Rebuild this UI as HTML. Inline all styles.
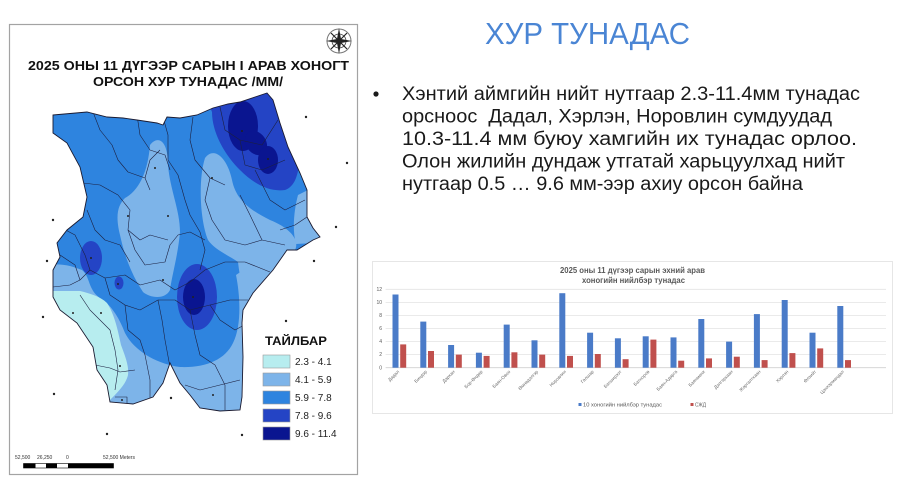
<!DOCTYPE html>
<html><head><meta charset="utf-8"><style>
html,body{margin:0;padding:0;background:#fff;}
svg{display:block;}
text{font-family:"Liberation Sans",Arial,sans-serif;}
</style></head><body>
<svg width="902" height="498" viewBox="0 0 902 498" xmlns="http://www.w3.org/2000/svg">
<defs>
<clipPath id="mc"><path id="outlineP" d="M53,115 L87,112 L107,117 L123,118 L137,120 L157,123 L163,125 L167,117 L180,118 L197,115 L213,108 L228,104 L240,102 L255,97 L267,93 L273,100 L280,123 L288,147 L300,173 L307,190 L307,217 L313,228 L320,237 L313,240 L297,250 L287,250 L273,270 L253,293 L243,310 L242,323 L243,357 L242,397 L240,410 L220,411 L200,408 L190,395 L180,383 L170,363 L163,383 L153,397 L133,404 L110,402 L107,385 L97,370 L93,347 L77,323 L60,310 L53,297 L53,270 L60,257 L57,243 L67,230 L83,217 L87,197 L80,167 L67,143 L53,133 Z"/></clipPath>
</defs>

<!-- Map frame -->
<rect x="9.5" y="24.5" width="348" height="450" fill="#fff" stroke="#a3a3a3" stroke-width="1.2"/>
<!-- compass -->
<g transform="translate(339,41)" stroke="#222" fill="none">
<circle r="12" stroke="#777" stroke-width="1"/>
<circle r="7" stroke="#444" stroke-width="0.8"/>
<path d="M0,-13 L2,-2 L13,0 L2,2 L0,13 L-2,2 L-13,0 L-2,-2 Z" fill="#222" stroke="none"/>
<path d="M-8,-8 L8,8 M8,-8 L-8,8" stroke-width="1.2"/>
</g>
<text x="28" y="70" font-size="13" font-weight="bold" fill="#111" textLength="321" lengthAdjust="spacingAndGlyphs">2025 ОНЫ 11 ДҮГЭЭР САРЫН I АРАВ ХОНОГТ</text>
<text x="93" y="86" font-size="13" font-weight="bold" fill="#111" textLength="190" lengthAdjust="spacingAndGlyphs">ОРСОН ХУР ТУНАДАС /ММ/</text>

<!-- Map fill -->
<g clip-path="url(#mc)">
<rect x="40" y="85" width="290" height="330" fill="#2e84df"/>
<!-- light blue zones -->
<g fill="#7db4e9">
<path d="M150,145 C158,135 168,140 168,165 C170,190 180,210 180,232 C178,255 172,275 170,290 C165,300 150,298 143,292 C132,275 125,258 120,235 C115,215 118,205 125,198 C140,190 148,170 150,145 Z"/>
<path d="M205,158 C215,145 228,160 232,180 C236,200 250,210 270,220 C290,228 300,240 295,250 L275,262 C265,280 262,300 262,330 L250,330 C245,300 240,280 238,262 C228,255 215,250 208,240 C200,220 198,180 205,158 Z"/>
<path d="M298,195 L312,188 L330,242 L296,244 C292,230 294,210 298,195 Z"/>
<path d="M40,266 C60,262 72,266 82,270 C90,276 88,290 100,298 C112,305 120,320 125,333 C135,352 158,364 180,367 C205,368 225,360 233,343 C242,325 240,295 236,275 L255,262 L310,250 L310,420 L40,420 Z"/>
</g>
<!-- cyan -->
<path fill="#b7edef" d="M45,291 L80,291 C88,293 100,296 107,303 C113,312 117,325 121,345 C125,356 129,365 128,375 C126,384 118,392 110,400 L45,400 Z"/>
<!-- dark -->
<g fill="#2444c5">
<path d="M205,95 L212,112 C212,130 222,152 240,170 C255,185 270,192 285,190 C300,185 300,160 300,140 L300,85 Z"/>
<ellipse cx="197" cy="297" rx="20" ry="33"/>
<ellipse cx="91" cy="258" rx="11" ry="17"/>
<ellipse cx="119" cy="283" rx="4.5" ry="6.5"/>
</g>
<!-- navy -->
<g fill="#0a1590">
<ellipse cx="243" cy="126" rx="15" ry="25"/>
<ellipse cx="256" cy="143" rx="10" ry="13" transform="rotate(-35 256 143)"/>
<ellipse cx="268" cy="160" rx="10" ry="14"/>
<ellipse cx="194" cy="297" rx="11" ry="18"/>
</g>
<!-- soum borders -->
<g fill="none" stroke="#1c2040" stroke-width="0.6" stroke-linejoin="round">
<path d="M93,112 L100,130 L112,145 L118,160 L128,172 L145,178 L150,190"/>
<path d="M137,115 L140,135 L150,150 L165,155 L170,170"/>
<path d="M163,117 L168,135 L168,160 L178,175 L185,200 L190,215"/>
<path d="M193,117 L190,140 L195,160 L210,178 L225,185"/>
<path d="M220,107 L225,130 L240,140 L262,145 L278,120"/>
<path d="M240,140 L245,165 L262,170 L285,160"/>
<path d="M210,178 L205,200 L212,220 L225,240 L245,245 L262,240 L285,245"/>
<path d="M83,183 L100,185 L118,195 L130,210 L128,230 L140,240 L150,235 L168,240"/>
<path d="M87,210 L95,230 L105,240 L120,245 L130,262"/>
<path d="M60,227 L75,235 L85,255 L90,270 L105,278 L125,275 L140,285 L160,280 L175,290 L190,282 L205,270 L225,262 L245,262 L270,272"/>
<path d="M128,230 L135,250 L145,265 L165,262 L170,245 L178,235 L190,232 L205,240"/>
<path d="M190,215 L200,232 L205,250 L200,270"/>
<path d="M53,287 L70,285 L80,280 L90,270"/>
<path d="M80,295 L90,310 L100,320 L110,330 L115,350 L118,370 L115,390"/>
<path d="M105,278 L110,295 L125,305 L140,310 L158,300 L175,300 L190,310 L210,305 L230,300 L248,300"/>
<path d="M125,305 L128,330 L140,340 L145,355 L150,380 L150,405"/>
<path d="M158,300 L162,320 L165,340 L170,367"/>
<path d="M190,310 L195,335 L200,355 L215,365 L225,385 L225,410"/>
<path d="M210,305 L220,320 L235,330 L248,323"/>
<path d="M95,365 L110,368 L120,372 L135,370"/>
<path d="M185,385 L200,390 L220,385 L240,380"/>
<path d="M60,255 L75,265 L80,280"/>
<path d="M240,195 L250,215 L262,240"/>
<path d="M255,170 L270,200 L285,210 L305,200"/>
<path d="M280,230 L295,225 L310,215"/>
<path d="M145,178 L150,160 L160,150"/>
<path d="M115,397 L127,397 L127,407"/>
</g>
</g>
<use href="#outlineP" fill="none" stroke="#1a1a30" stroke-width="0.9"/>
<!-- settlement dots -->
<g fill="#222">
<circle cx="155" cy="168" r="1"/><circle cx="212" cy="178" r="1"/><circle cx="242" cy="131" r="1"/>
<circle cx="268" cy="159" r="1"/><circle cx="128" cy="216" r="1"/><circle cx="168" cy="216" r="1"/>
<circle cx="91" cy="258" r="1"/><circle cx="163" cy="280" r="1"/><circle cx="193" cy="297" r="1"/>
<circle cx="118" cy="284" r="1"/><circle cx="73" cy="313" r="1"/><circle cx="101" cy="313" r="1"/>
<circle cx="120" cy="366" r="1"/><circle cx="213" cy="395" r="1"/><circle cx="122" cy="400" r="1"/>
<circle cx="306" cy="117" r="1.2"/><circle cx="347" cy="163" r="1.2"/><circle cx="336" cy="227" r="1.2"/>
<circle cx="53" cy="220" r="1.2"/><circle cx="47" cy="261" r="1.2"/><circle cx="43" cy="317" r="1.2"/>
<circle cx="54" cy="394" r="1.2"/><circle cx="107" cy="434" r="1.2"/><circle cx="171" cy="398" r="1.2"/>
<circle cx="242" cy="435" r="1.2"/><circle cx="286" cy="321" r="1.2"/><circle cx="314" cy="261" r="1.2"/>
</g>
<!-- legend -->
<text x="265" y="345" font-size="12" font-weight="bold" fill="#111" textLength="62" lengthAdjust="spacingAndGlyphs">ТАЙЛБАР</text>
<g stroke="#9a9a9a" stroke-width="0.6">
<rect x="263" y="355" width="27" height="13" fill="#b7edef"/>
<rect x="263" y="373" width="27" height="13" fill="#7db4e9"/>
<rect x="263" y="391" width="27" height="13" fill="#2e84df"/>
<rect x="263" y="409" width="27" height="13" fill="#2444c5"/>
<rect x="263" y="427" width="27" height="13" fill="#0a1590"/>
</g>
<g font-size="10" fill="#222">
<text x="295" y="365">2.3 - 4.1</text>
<text x="295" y="383">4.1 - 5.9</text>
<text x="295" y="401">5.9 - 7.8</text>
<text x="295" y="419">7.8 - 9.6</text>
<text x="295" y="437">9.6 - 11.4</text>
</g>
<!-- scale bar -->
<g font-size="5" fill="#333">
<text x="15" y="459">52,500</text><text x="37" y="459">26,250</text><text x="66" y="459">0</text><text x="103" y="459">52,500 Meters</text>
</g>
<rect x="23.5" y="463.5" width="90" height="4.5" fill="#fff" stroke="#000" stroke-width="0.6"/>
<rect x="23.5" y="463.5" width="12" height="4.5" fill="#000"/>
<rect x="46" y="463.5" width="11" height="4.5" fill="#000"/>
<rect x="68" y="463.5" width="45.5" height="4.5" fill="#000"/>

<!-- Slide title -->
<text x="485" y="44" font-size="31" fill="#4a85d4" textLength="205" lengthAdjust="spacingAndGlyphs">ХУР ТУНАДАС</text>
<!-- bullet -->
<circle cx="376" cy="94" r="2.6" fill="#1a1a1a"/>
<g font-size="19" fill="#1a1a1a" style="white-space:pre">
<text x="402" y="100" textLength="458" lengthAdjust="spacingAndGlyphs">Хэнтий аймгийн нийт нутгаар 2.3-11.4мм тунадас</text>
<text x="402" y="122.5" textLength="430" lengthAdjust="spacingAndGlyphs" xml:space="preserve">орсноос  Дадал, Хэрлэн, Норовлин сумдуудад</text>
<text x="402" y="145" textLength="455" lengthAdjust="spacingAndGlyphs">10.3-11.4 мм буюу хамгийн их тунадас орлоо.</text>
<text x="402" y="167.5" textLength="443" lengthAdjust="spacingAndGlyphs">Олон жилийн дундаж утгатай харьцуулхад нийт</text>
<text x="402" y="190" textLength="401" lengthAdjust="spacingAndGlyphs">нутгаар 0.5 … 9.6 мм-ээр ахиу орсон байна</text>
</g>

<!-- Chart -->
<rect x="372.5" y="261.5" width="520" height="152" fill="#fff" stroke="#e6e6e6" stroke-width="1"/>
<text x="560" y="273" font-size="8" font-weight="bold" fill="#595959" textLength="145" lengthAdjust="spacingAndGlyphs">2025 оны 11 дүгээр сарын эхний арав</text>
<text x="582" y="283" font-size="8" font-weight="bold" fill="#595959" textLength="103" lengthAdjust="spacingAndGlyphs">хоногийн нийлбэр тунадас</text>
<g stroke="#e3e3e3" stroke-width="0.8">
<line x1="385.6" x2="886" y1="289.3" y2="289.3"/>
<line x1="385.6" x2="886" y1="302.4" y2="302.4"/>
<line x1="385.6" x2="886" y1="315.4" y2="315.4"/>
<line x1="385.6" x2="886" y1="328.5" y2="328.5"/>
<line x1="385.6" x2="886" y1="341.6" y2="341.6"/>
<line x1="385.6" x2="886" y1="354.6" y2="354.6"/>
</g>
<line x1="385.6" x2="886" y1="367.7" y2="367.7" stroke="#d0d0d0" stroke-width="0.8"/>
<g font-size="5" fill="#595959" text-anchor="end">
<text x="382" y="291">12</text><text x="382" y="304">10</text><text x="382" y="317">8</text>
<text x="382" y="330">6</text><text x="382" y="343">4</text><text x="382" y="356">2</text><text x="382" y="369.5">0</text>
</g>
<g fill="#4a7bc8">
<rect x="392.5" y="294.5" width="6" height="73.2"/>
<rect x="420.3" y="321.6" width="6" height="46.1"/>
<rect x="448.1" y="345.0" width="6" height="22.7"/>
<rect x="475.9" y="352.7" width="6" height="15.0"/>
<rect x="503.7" y="324.6" width="6" height="43.1"/>
<rect x="531.5" y="340.3" width="6" height="27.4"/>
<rect x="559.3" y="293.2" width="6" height="74.5"/>
<rect x="587.1" y="332.7" width="6" height="35.0"/>
<rect x="614.9" y="338.3" width="6" height="29.4"/>
<rect x="642.7" y="336.3" width="6" height="31.4"/>
<rect x="670.5" y="337.4" width="6" height="30.3"/>
<rect x="698.3" y="319.0" width="6" height="48.7"/>
<rect x="726.1" y="341.6" width="6" height="26.1"/>
<rect x="753.9" y="314.1" width="6" height="53.6"/>
<rect x="781.7" y="300.0" width="6" height="67.7"/>
<rect x="809.5" y="332.7" width="6" height="35.0"/>
<rect x="837.3" y="306.0" width="6" height="61.7"/>
</g>
<g fill="#c0504d">
<rect x="400.2" y="344.4" width="6" height="23.3"/>
<rect x="428.0" y="351.0" width="6" height="16.7"/>
<rect x="455.8" y="354.6" width="6" height="13.1"/>
<rect x="483.6" y="355.9" width="6" height="11.8"/>
<rect x="511.4" y="352.3" width="6" height="15.4"/>
<rect x="539.2" y="354.6" width="6" height="13.1"/>
<rect x="567.0" y="355.9" width="6" height="11.8"/>
<rect x="594.8" y="354.0" width="6" height="13.7"/>
<rect x="622.6" y="359.2" width="6" height="8.5"/>
<rect x="650.4" y="339.6" width="6" height="28.1"/>
<rect x="678.2" y="360.7" width="6" height="7.0"/>
<rect x="706.0" y="358.4" width="6" height="9.3"/>
<rect x="733.8" y="356.7" width="6" height="11.0"/>
<rect x="761.6" y="360.1" width="6" height="7.6"/>
<rect x="789.4" y="353.1" width="6" height="14.6"/>
<rect x="817.2" y="348.4" width="6" height="19.3"/>
<rect x="845.0" y="360.1" width="6" height="7.6"/>
</g>
<g font-size="4.6" fill="#6a6a6a" text-anchor="end">
<text transform="translate(399.5,372) rotate(-45)">Дадал</text>
<text transform="translate(427.3,372) rotate(-45)">Биндэр</text>
<text transform="translate(455.1,372) rotate(-45)">Дархан</text>
<text transform="translate(482.9,372) rotate(-45)">Бор-Өндөр</text>
<text transform="translate(510.7,372) rotate(-45)">Баян-Овоо</text>
<text transform="translate(538.5,372) rotate(-45)">Өмнөдэлгэр</text>
<text transform="translate(566.3,372) rotate(-45)">Норовлин</text>
<text transform="translate(594.1,372) rotate(-45)">Галшар</text>
<text transform="translate(621.9,372) rotate(-45)">Батширээт</text>
<text transform="translate(649.7,372) rotate(-45)">Батноров</text>
<text transform="translate(677.5,372) rotate(-45)">Баян-Адарга</text>
<text transform="translate(705.3,372) rotate(-45)">Баянмөнх</text>
<text transform="translate(733.1,372) rotate(-45)">Дэлгэрхаан</text>
<text transform="translate(760.9,372) rotate(-45)">Жаргалтхаан</text>
<text transform="translate(788.7,372) rotate(-45)">Хэрлэн</text>
<text transform="translate(816.5,372) rotate(-45)">Өлзийт</text>
<text transform="translate(844.3,372) rotate(-45)">Цэнхэрмандал</text>
</g>
<rect x="578.5" y="403" width="3" height="3" fill="#4a7bc8"/>
<text x="583" y="406.5" font-size="5" fill="#595959" textLength="79" lengthAdjust="spacingAndGlyphs">10 хоногийн нийлбэр тунадас</text>
<rect x="690.5" y="403" width="3" height="3" fill="#c0504d"/>
<text x="695" y="406.5" font-size="5" fill="#595959" textLength="11" lengthAdjust="spacingAndGlyphs">СЖД</text>
</svg>
</body></html>
